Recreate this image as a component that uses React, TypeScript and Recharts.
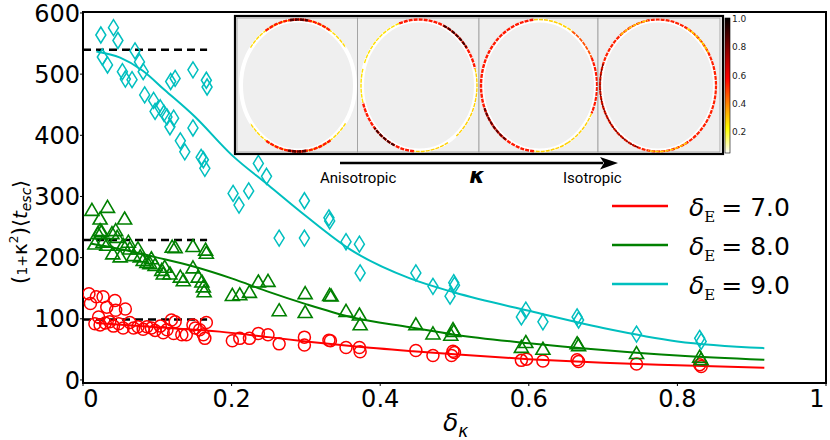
import React from 'react';
import { ComposedChart, Scatter, Line, XAxis, YAxis, ReferenceArea, Legend } from 'recharts';

const RED = '#ff0000';
const GREEN = '#008000';
const CYAN = '#00bfbf';

const xTicks = [0, 0.2, 0.4, 0.6, 0.8, 1];
const yTicks = [0, 100, 200, 300, 400, 500, 600];

// delta_E = 7.0 (circles)
const pointsE7 = [
  { x: 0.008, y: 141 }, { x: 0.010, y: 125 }, { x: 0.018, y: 136 }, { x: 0.027, y: 136 },
  { x: 0.032, y: 119 }, { x: 0.043, y: 130 }, { x: 0.044, y: 114 }, { x: 0.057, y: 116 },
  { x: 0.021, y: 103 }, { x: 0.016, y: 92 }, { x: 0.023, y: 90 }, { x: 0.030, y: 93 },
  { x: 0.036, y: 95 }, { x: 0.041, y: 88 }, { x: 0.048, y: 92 }, { x: 0.054, y: 85 },
  { x: 0.063, y: 94 }, { x: 0.068, y: 85 }, { x: 0.074, y: 87 }, { x: 0.081, y: 83 },
  { x: 0.086, y: 87 }, { x: 0.092, y: 85 }, { x: 0.097, y: 81 }, { x: 0.104, y: 88 },
  { x: 0.108, y: 77 }, { x: 0.113, y: 82 }, { x: 0.119, y: 98 }, { x: 0.124, y: 95 },
  { x: 0.122, y: 76 }, { x: 0.133, y: 74 }, { x: 0.139, y: 74 }, { x: 0.148, y: 90 },
  { x: 0.151, y: 85 }, { x: 0.157, y: 82 }, { x: 0.166, y: 94 }, { x: 0.162, y: 74 },
  { x: 0.164, y: 68 },
  { x: 0.201, y: 64 }, { x: 0.211, y: 68 }, { x: 0.224, y: 68 }, { x: 0.236, y: 76 },
  { x: 0.249, y: 74 }, { x: 0.264, y: 59 }, { x: 0.298, y: 70 }, { x: 0.298, y: 57 },
  { x: 0.331, y: 65 }, { x: 0.333, y: 64 }, { x: 0.354, y: 53 }, { x: 0.372, y: 53 },
  { x: 0.373, y: 46 }, { x: 0.448, y: 48 }, { x: 0.471, y: 40 }, { x: 0.498, y: 47 },
  { x: 0.496, y: 40 }, { x: 0.500, y: 45 }, { x: 0.590, y: 32 }, { x: 0.597, y: 34 },
  { x: 0.619, y: 31 }, { x: 0.665, y: 33 }, { x: 0.667, y: 30 }, { x: 0.745, y: 26 },
  { x: 0.830, y: 25 }, { x: 0.832, y: 22 },
];

// delta_E = 8.0 (triangles)
const pointsE8 = [
  { x: 0.012, y: 278 }, { x: 0.033, y: 283 }, { x: 0.023, y: 264 }, { x: 0.056, y: 264 },
  { x: 0.023, y: 245 }, { x: 0.020, y: 240 }, { x: 0.025, y: 243 }, { x: 0.016, y: 223 },
  { x: 0.027, y: 226 }, { x: 0.039, y: 240 }, { x: 0.044, y: 245 }, { x: 0.046, y: 234 },
  { x: 0.032, y: 221 }, { x: 0.040, y: 207 }, { x: 0.050, y: 202 }, { x: 0.054, y: 221 },
  { x: 0.061, y: 226 }, { x: 0.063, y: 215 }, { x: 0.068, y: 204 }, { x: 0.074, y: 215 },
  { x: 0.077, y: 202 }, { x: 0.081, y: 196 }, { x: 0.086, y: 193 }, { x: 0.090, y: 191 },
  { x: 0.092, y: 199 }, { x: 0.097, y: 188 }, { x: 0.106, y: 180 }, { x: 0.110, y: 185 },
  { x: 0.108, y: 174 }, { x: 0.117, y: 174 }, { x: 0.120, y: 218 }, { x: 0.124, y: 217 },
  { x: 0.131, y: 169 }, { x: 0.135, y: 163 }, { x: 0.148, y: 219 }, { x: 0.148, y: 184 },
  { x: 0.155, y: 169 }, { x: 0.160, y: 161 }, { x: 0.165, y: 213 }, { x: 0.166, y: 208 },
  { x: 0.162, y: 153 }, { x: 0.163, y: 145 },
  { x: 0.201, y: 139 }, { x: 0.211, y: 140 }, { x: 0.224, y: 144 }, { x: 0.236, y: 161 },
  { x: 0.249, y: 162 }, { x: 0.264, y: 114 }, { x: 0.299, y: 142 }, { x: 0.299, y: 111 },
  { x: 0.332, y: 139 }, { x: 0.334, y: 138 }, { x: 0.354, y: 113 }, { x: 0.372, y: 107 },
  { x: 0.373, y: 91 }, { x: 0.448, y: 91 }, { x: 0.471, y: 76 }, { x: 0.498, y: 83 },
  { x: 0.499, y: 80 }, { x: 0.495, y: 74 }, { x: 0.590, y: 54 }, { x: 0.596, y: 62 },
  { x: 0.619, y: 51 }, { x: 0.665, y: 60 }, { x: 0.667, y: 57 }, { x: 0.745, y: 44 },
  { x: 0.830, y: 38 }, { x: 0.832, y: 34 },
];

// delta_E = 9.0 (diamonds)
const pointsE9 = [
  { x: 0.024, y: 564 }, { x: 0.041, y: 576 }, { x: 0.047, y: 555 }, { x: 0.026, y: 528 },
  { x: 0.033, y: 515 }, { x: 0.070, y: 538 }, { x: 0.076, y: 520 }, { x: 0.081, y: 504 },
  { x: 0.053, y: 504 }, { x: 0.057, y: 492 }, { x: 0.066, y: 491 }, { x: 0.083, y: 466 },
  { x: 0.095, y: 457 }, { x: 0.097, y: 439 }, { x: 0.104, y: 445 }, { x: 0.109, y: 436 },
  { x: 0.113, y: 430 }, { x: 0.117, y: 414 }, { x: 0.122, y: 428 }, { x: 0.118, y: 488 },
  { x: 0.124, y: 493 }, { x: 0.148, y: 507 }, { x: 0.166, y: 490 }, { x: 0.167, y: 479 },
  { x: 0.148, y: 412 }, { x: 0.131, y: 391 }, { x: 0.137, y: 373 }, { x: 0.159, y: 364 },
  { x: 0.162, y: 360 }, { x: 0.164, y: 346 },
  { x: 0.202, y: 305 }, { x: 0.210, y: 286 }, { x: 0.223, y: 309 }, { x: 0.236, y: 354 },
  { x: 0.247, y: 333 }, { x: 0.264, y: 232 }, { x: 0.298, y: 293 }, { x: 0.298, y: 232 },
  { x: 0.331, y: 265 }, { x: 0.332, y: 260 }, { x: 0.354, y: 226 }, { x: 0.372, y: 222 },
  { x: 0.373, y: 175 }, { x: 0.448, y: 175 }, { x: 0.471, y: 153 }, { x: 0.499, y: 159 },
  { x: 0.500, y: 155 }, { x: 0.494, y: 137 }, { x: 0.590, y: 103 }, { x: 0.596, y: 114 },
  { x: 0.619, y: 95 }, { x: 0.665, y: 103 }, { x: 0.667, y: 98 }, { x: 0.745, y: 75 },
  { x: 0.830, y: 68 }, { x: 0.832, y: 63 },
];

// fitted curves
const fitE7 = [
  { x: 0.018, y: 93 }, { x: 0.1, y: 86 }, { x: 0.184, y: 79 }, { x: 0.25, y: 70 },
  { x: 0.3, y: 63 }, { x: 0.364, y: 55 }, { x: 0.444, y: 47 }, { x: 0.5, y: 42 },
  { x: 0.6, y: 34 }, { x: 0.7, y: 28 }, { x: 0.8, y: 24 }, { x: 0.917, y: 20 },
];
const fitE8 = [
  { x: 0.01, y: 223 }, { x: 0.05, y: 214 }, { x: 0.1, y: 200 }, { x: 0.15, y: 185 },
  { x: 0.2, y: 166 }, { x: 0.25, y: 144 }, { x: 0.3, y: 124 }, { x: 0.36, y: 103 },
  { x: 0.44, y: 86 }, { x: 0.5, y: 74 }, { x: 0.6, y: 60 }, { x: 0.7, y: 49 },
  { x: 0.8, y: 40 }, { x: 0.917, y: 33 },
];
const fitE9 = [
  { x: 0.018, y: 537 }, { x: 0.05, y: 527 }, { x: 0.08, y: 506 }, { x: 0.11, y: 474 },
  { x: 0.15, y: 431 }, { x: 0.2, y: 368 }, { x: 0.25, y: 318 }, { x: 0.3, y: 268 },
  { x: 0.36, y: 213 }, { x: 0.44, y: 166 }, { x: 0.5, y: 143 }, { x: 0.6, y: 113 },
  { x: 0.7, y: 85 }, { x: 0.8, y: 63 }, { x: 0.917, y: 52 },
];

// plateau levels (dashed)
const plateauE7 = [{ x: 0, y: 99 }, { x: 0.167, y: 99 }];
const plateauE8 = [{ x: 0, y: 229 }, { x: 0.167, y: 229 }];
const plateauE9 = [{ x: 0, y: 540 }, { x: 0.167, y: 540 }];

const legendItems = [
  { value: '7.0', color: RED },
  { value: '8.0', color: GREEN },
  { value: '9.0', color: CYAN },
];

const colorbarTicks = ['1.0', '0.8', '0.6', '0.4', '0.2'];

const FONT = '"DejaVu Sans", sans-serif';

const CircleMark = (p: any) => (
  <circle cx={p.cx} cy={p.cy} r={6} fill="none" stroke={RED} strokeWidth={1.5} />
);
const TriangleMark = (p: any) => (
  <path
    d={`M${p.cx},${p.cy - 6.5} L${p.cx + 7},${p.cy + 5.5} L${p.cx - 7},${p.cy + 5.5} Z`}
    fill="none" stroke={GREEN} strokeWidth={1.6} strokeLinejoin="miter"
  />
);
const DiamondMark = (p: any) => (
  <path
    d={`M${p.cx},${p.cy - 8} L${p.cx + 5},${p.cy} L${p.cx},${p.cy + 8} L${p.cx - 5},${p.cy} Z`}
    fill="none" stroke={CYAN} strokeWidth={1.5}
  />
);

const XTick = (p: any) => {
  const v = p.payload.value;
  const dx = v === 0 ? 8 : v === 1 ? -9 : 0;
  return (
    <text x={p.x + dx} y={p.y} dy="0.71em" textAnchor="middle" fontSize={24} fontFamily={FONT} fill="#000">
      {String(v)}
    </text>
  );
};

const YTick = (p: any) => (
  <text x={p.x} y={p.y} dy="0.36em" textAnchor="end" fontSize={24} fontFamily={FONT} fill="#000">
    {String(p.payload.value)}
  </text>
);

const renderLegend = () => (
  <svg width={220} height={125}>
    {legendItems.map((it, i) => (
      <g key={it.value}>
        <line x1={7} x2={63} y1={21 + i * 39} y2={21 + i * 39} stroke={it.color} strokeWidth={2.5} />
        <text x={84} y={31 + i * 39} fontSize={25} fontFamily={FONT} fill="#000">
          <tspan fontStyle="italic">δ</tspan>
          <tspan fontFamily='"DejaVu Serif", serif' fontSize={15} dy={6}>E</tspan>
          <tspan dy={-6} dx={6}>= {it.value}</tspan>
        </text>
      </g>
    ))}
  </svg>
);

function arcPath(cx: number, cy: number, rx: number, ry: number, a0: number, a1: number) {
  const r = Math.PI / 180;
  const x0 = cx + rx * Math.cos(a0 * r);
  const y0 = cy + ry * Math.sin(a0 * r);
  const x1 = cx + rx * Math.cos(a1 * r);
  const y1 = cy + ry * Math.sin(a1 * r);
  const large = a1 - a0 > 180 ? 1 : 0;
  return `M${x0},${y0} A${rx},${ry} 0 ${large} 1 ${x1},${y1}`;
}

// inset panels: [left, right, ellipse centre x], arcs: [from, to, colour, width]
const panels: { x0: number; x1: number; cx: number; arcs: [number, number, string, number][] }[] = [
  {
    x0: 237, x1: 357.5, cx: 298,
    arcs: [
      [215, 325, '#ffd800', 1.4], [236, 304, '#ff1800', 2.4], [262, 280, '#5a0000', 2.6],
      [35, 145, '#ffd800', 1.4], [56, 124, '#ff1800', 2.4], [82, 100, '#5a0000', 2.6],
    ],
  },
  {
    x0: 357.5, x1: 479, cx: 419,
    arcs: [
      [200, 250, '#ffe000', 1.4], [250, 345, '#ff1800', 2.4], [295, 325, '#400000', 2],
      [345, 410, '#ffd000', 1.4], [95, 165, '#ff1800', 2.4], [115, 140, '#400000', 2],
      [60, 95, '#ffd000', 1.4], [165, 195, '#ffe000', 1.4],
    ],
  },
  {
    x0: 479, x1: 598, cx: 539,
    arcs: [
      [95, 265, '#ff1800', 2.4], [125, 160, '#600000', 2], [265, 305, '#ffd000', 1.6],
      [60, 95, '#ffd000', 1.6], [305, 335, '#ff5000', 1.8], [335, 385, '#ff1800', 2.2],
      [385, 420, '#ffd000', 1.4],
    ],
  },
  {
    x0: 598, x1: 720, cx: 658,
    arcs: [
      [0, 180, '#ff2000', 2.2], [180, 360, '#ff2000', 2.2], [110, 200, '#700000', 1.2],
      [300, 330, '#ffd000', 1.6], [60, 100, '#ffd000', 1.4], [230, 260, '#ffd000', 1.4],
    ],
  },
];

const Inset = () => (
  <g>
    <defs>
      <linearGradient id="hotr" x1="0" y1="0" x2="0" y2="1">
        <stop offset="0" stopColor="#000000" />
        <stop offset="0.3" stopColor="#b00000" />
        <stop offset="0.45" stopColor="#ff0000" />
        <stop offset="0.7" stopColor="#ffb000" />
        <stop offset="0.82" stopColor="#ffff00" />
        <stop offset="1" stopColor="#ffffff" />
      </linearGradient>
    </defs>
    <rect x={235} y={16} width={488} height={138} fill="#fff" />
    {panels.map((p, i) => (
      <g key={i}>
        <rect x={p.x0} y={18} width={p.x1 - p.x0} height={134} fill="#efefef" stroke="#9a9a9a" strokeWidth={0.8} />
        <ellipse cx={p.cx} cy={85.5} rx={57} ry={65} fill="none" stroke="#fff" strokeWidth={4} />
        {p.arcs.map((a, j) => (
          <path key={j} d={arcPath(p.cx, 85.5, 58, 66, a[0], a[1])} fill="none"
            stroke={a[2]} strokeWidth={a[3]} strokeDasharray="4 1" />
        ))}
      </g>
    ))}
    <rect x={235} y={16} width={488} height={138} fill="none" stroke="#000" strokeWidth={2.2} />
    <rect x={725} y={18} width={5} height={135} fill="url(#hotr)" stroke="#000" strokeWidth={0.6} />
    {colorbarTicks.map((t, i) => (
      <text key={t} x={732} y={22 + i * 28.3} fontSize={9} fontFamily={FONT} fill="#222">{t}</text>
    ))}
    <line x1={340} x2={603} y1={163} y2={163} stroke="#000" strokeWidth={2.5} />
    <polygon points="600,157 618,163 600,169.5 604,163" fill="#000" />
    <text x={320} y={183} fontSize={15} fontFamily="Roboto, sans-serif" fill="#000">Anisotropic</text>
    <text x={563} y={183} fontSize={15} fontFamily="Roboto, sans-serif" fill="#000">Isotropic</text>
    <text x={477} y={183} textAnchor="middle" fontSize={22} fontStyle="italic" fontWeight="bold" fontFamily={FONT} fill="#000">κ</text>
  </g>
);

const AxisLabels = () => (
  <g>
    <text x={443} y={431} fontSize={25} fontStyle="italic" fontFamily={FONT} fill="#000">
      δ<tspan fontSize={17} dy={6}>κ</tspan>
    </text>
    <text transform="translate(27,232) rotate(-90)" textAnchor="middle" fontFamily={FONT} fill="#000">
      <tspan fontSize={22}>(</tspan>
      <tspan fontSize={14}>1+</tspan>
      <tspan fontSize={20}>κ</tspan>
      <tspan fontSize={12} dy={-9}>2</tspan>
      <tspan fontSize={22} dy={9}>)</tspan>
      <tspan fontSize={20}>⟨</tspan>
      <tspan fontSize={20} fontStyle="italic">t</tspan>
      <tspan fontSize={14} fontStyle="italic" dy={4}>esc</tspan>
      <tspan fontSize={20} dy={-4}>⟩</tspan>
    </text>
  </g>
);

export default function App() {
  return (
    <div style={{ position: 'relative', width: 830, height: 440, background: '#fff' }}>
      <style>{'body{margin:0}'}</style>
      <ComposedChart width={830} height={440} margin={{ top: 12, right: 4, bottom: 0, left: 0 }}>
        <XAxis
          type="number" dataKey="x" domain={[0, 1]} ticks={xTicks} height={57}
          tickSize={3} tickMargin={4} tick={<XTick />} allowDataOverflow
          axisLine={{ stroke: '#000', strokeWidth: 2 }} tickLine={{ stroke: '#000' }}
        />
        <YAxis
          type="number" dataKey="y" domain={[-5, 601.6]} ticks={yTicks} width={83}
          tickSize={3} tickMargin={0} tick={<YTick />} allowDataOverflow
          axisLine={{ stroke: '#000', strokeWidth: 2 }} tickLine={{ stroke: '#000' }}
        />
        <ReferenceArea x1={0} x2={1} y1={-5} y2={601.6} fill="none" stroke="#000" strokeWidth={2} />
        <Line data={plateauE7} dataKey="y" stroke="#000" strokeWidth={2.5} strokeDasharray="8 5" dot={false} isAnimationActive={false} legendType="none" />
        <Line data={plateauE8} dataKey="y" stroke="#000" strokeWidth={2.5} strokeDasharray="8 5" dot={false} isAnimationActive={false} legendType="none" />
        <Line data={plateauE9} dataKey="y" stroke="#000" strokeWidth={2.5} strokeDasharray="8 5" dot={false} isAnimationActive={false} legendType="none" />
        <Scatter data={pointsE7} dataKey="y" shape={CircleMark} isAnimationActive={false} />
        <Scatter data={pointsE8} dataKey="y" shape={TriangleMark} isAnimationActive={false} />
        <Scatter data={pointsE9} dataKey="y" shape={DiamondMark} isAnimationActive={false} />
        <Line data={fitE7} dataKey="y" type="monotone" stroke={RED} strokeWidth={2} dot={false} isAnimationActive={false} />
        <Line data={fitE8} dataKey="y" type="monotone" stroke={GREEN} strokeWidth={2} dot={false} isAnimationActive={false} />
        <Line data={fitE9} dataKey="y" type="monotone" stroke={CYAN} strokeWidth={2} dot={false} isAnimationActive={false} />
        <Legend
          content={renderLegend}
          layout="horizontal" verticalAlign="middle" align="center"
          wrapperStyle={{ left: 605, top: 185, width: 220, height: 125 }}
        />
      </ComposedChart>
      <svg width={830} height={440} style={{ position: 'absolute', left: 0, top: 0, pointerEvents: 'none' }}>
        <Inset />
        <AxisLabels />
      </svg>
    </div>
  );
}
